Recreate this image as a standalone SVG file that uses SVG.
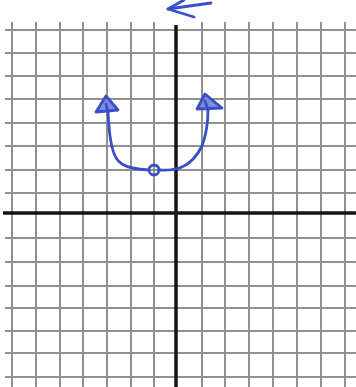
<svg xmlns="http://www.w3.org/2000/svg" width="356" height="387" viewBox="0 0 356 387">
<style>
.grid line{stroke:#909090;stroke-width:2}
.axis{stroke:#151515;stroke-width:3.5}
.ink{stroke:#3a4fc6;stroke-width:2.8;fill:none;stroke-linecap:round;stroke-linejoin:round}
.head{stroke:#3a4fc6;stroke-width:2.8;fill:#7f8fe0;stroke-linejoin:round}
</style>
<rect width="356" height="387" fill="#ffffff"/>
<g class="grid" id="grid">
<line x1="5" y1="30" x2="356" y2="30"/>
<line x1="5" y1="53" x2="356" y2="53"/>
<line x1="5" y1="76" x2="356" y2="76"/>
<line x1="5" y1="99" x2="356" y2="99"/>
<line x1="5" y1="123" x2="356" y2="123"/>
<line x1="5" y1="146" x2="356" y2="146"/>
<line x1="5" y1="170" x2="356" y2="170"/>
<line x1="5" y1="193" x2="356" y2="193"/>
<line x1="5" y1="238" x2="356" y2="238"/>
<line x1="5" y1="262" x2="356" y2="262"/>
<line x1="5" y1="286" x2="356" y2="286"/>
<line x1="5" y1="308" x2="356" y2="308"/>
<line x1="5" y1="331" x2="356" y2="331"/>
<line x1="5" y1="353" x2="356" y2="353"/>
<line x1="5" y1="377" x2="356" y2="377"/>
<line x1="12" y1="22" x2="12" y2="387"/>
<line x1="36" y1="22" x2="36" y2="387"/>
<line x1="60" y1="22" x2="60" y2="387"/>
<line x1="83" y1="22" x2="83" y2="387"/>
<line x1="107" y1="22" x2="107" y2="387"/>
<line x1="131" y1="22" x2="131" y2="387"/>
<line x1="154" y1="22" x2="154" y2="387"/>
<line x1="202" y1="22" x2="202" y2="387"/>
<line x1="225" y1="22" x2="225" y2="387"/>
<line x1="249" y1="22" x2="249" y2="387"/>
<line x1="273" y1="22" x2="273" y2="387"/>
<line x1="297" y1="22" x2="297" y2="387"/>
<line x1="321" y1="22" x2="321" y2="387"/>
<line x1="345" y1="22" x2="345" y2="387"/>
</g>
<g id="axes">
<line class="axis" x1="3" y1="213" x2="356" y2="213"/>
<line class="axis" x1="176" y1="25" x2="176" y2="387"/>
</g>
<g id="top-arrow">
<path class="ink" d="M168 9 Q190 6 211 3"/>
<path class="ink" d="M184 0 L168 9 L194 17"/>
</g>
<g id="curve">
<path class="ink" d="M108 111 Q109 135 112 147 Q115 160 122 164 Q130 169 149 170 M159 170 Q172 171 182 167 Q194 162 202 146 Q208 130 208 110"/>
<circle class="ink" cx="154" cy="170" r="5" fill="#aab4ea"/>
</g>
<g id="left-arrowhead">
<polygon class="head" points="106,96 96,112 118,110"/>
<path class="ink" d="M106 104 L108 112"/>
</g>
<g id="right-arrowhead">
<polygon class="head" points="205,94 197,109 222,108"/>
<path class="ink" d="M205 101 L208 110"/>
</g>
</svg>
